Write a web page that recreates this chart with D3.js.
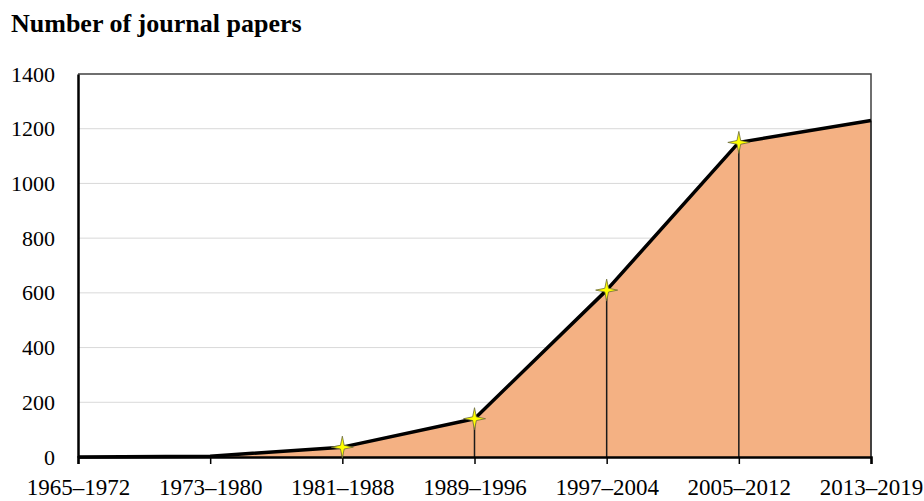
<!DOCTYPE html>
<html lang="en">
<head>
<meta charset="utf-8">
<script src="https://d3js.org/d3.v7.min.js"></script>
<style type="text/css">
body {
    margin: 0;
    background: #fff;
}
text {
    font-family: "Liberation Serif", "Times New Roman", serif;
}
.title {
    font-size: 26px;
    font-weight: bold;
}
.axis text {
    font-size: 22px;
    fill: #000;
}
.x.axis text {
    font-size: 23px;
}
.grid line {
    stroke: #d9d9d9;
    stroke-width: 1;
}
</style>
</head>
<body>
<div id="chart"></div>
<script type="text/javascript">

// periods and number of papers
var periods = ["1965\u20131972", "1973\u20131980", "1981\u20131988", "1989\u20131996",
               "1997\u20132004", "2005\u20132012", "2013\u20132019"];
var papers = [0, 3, 36, 140, 610, 1150, 1230];
var yTicks = [0, 200, 400, 600, 800, 1000, 1200, 1400];
// which points get a star marker
var starred = [false, false, true, true, true, true, false];

var width = 924;
var height = 501;
var margin = {top: 74, right: 53, bottom: 44, left: 78};

var svg = d3.select("#chart")
    .append("svg")
    .attr("width", width)
    .attr("height", height);

var x = d3.scalePoint()
    .domain(periods)
    .range([margin.left, width - margin.right]);

var y = d3.scaleLinear()
    .domain([0, 1400])
    .range([height - margin.bottom, margin.top]);

var data = periods.map(function(p, i) {
    return {period: p, value: papers[i], star: starred[i]};
});

svg.append("text")
    .attr("class", "title")
    .attr("x", 11)
    .attr("y", 32)
    .text("Number of journal papers");

// gridlines
svg.append("g")
    .attr("class", "grid")
    .selectAll("line")
    .data(yTicks.slice(1, -1))
    .enter()
    .append("line")
    .attr("x1", x.range()[0])
    .attr("x2", x.range()[1])
    .attr("y1", function(d) { return y(d); })
    .attr("y2", function(d) { return y(d); });

// shaded area
var area = d3.area()
    .x(function(d) { return x(d.period); })
    .y0(y(0))
    .y1(function(d) { return y(d.value); });

svg.append("path")
    .datum(data)
    .attr("d", area)
    .attr("fill", "#f4b183");

// drop lines
svg.append("g")
    .selectAll("line")
    .data(data)
    .enter()
    .append("line")
    .attr("x1", function(d) { return x(d.period); })
    .attr("x2", function(d) { return x(d.period); })
    .attr("y1", function(d) { return y(d.value); })
    .attr("y2", y(0))
    .attr("stroke", "#1a1a1a")
    .attr("stroke-width", 1.5);

// top and right border of the plot
svg.append("path")
    .attr("d", "M" + x.range()[0] + "," + y(1400) + "H" + x.range()[1] + "V" + y(0))
    .attr("fill", "none")
    .attr("stroke", "#404040")
    .attr("stroke-width", 1.5);

var line = d3.line()
    .x(function(d) { return x(d.period); })
    .y(function(d) { return y(d.value); });

svg.append("path")
    .datum(data)
    .attr("d", line)
    .attr("fill", "none")
    .attr("stroke", "#000")
    .attr("stroke-width", 3.5)
    .attr("stroke-linejoin", "round");

// y axis
var yAxis = svg.append("g")
    .attr("class", "y axis")
    .attr("transform", "translate(" + margin.left + ",0)")
    .call(d3.axisLeft(y).tickValues(yTicks).tickFormat(d3.format("d")).tickSize(0).tickPadding(23));
yAxis.select(".domain").attr("stroke", "#000").attr("stroke-width", 2.5);

// x axis
var xAxis = svg.append("g")
    .attr("class", "x axis")
    .attr("transform", "translate(0," + y(0) + ")")
    .call(d3.axisBottom(x).tickSize(7).tickPadding(15));
xAxis.select(".domain").attr("stroke", "#000").attr("stroke-width", 2.5);
xAxis.selectAll(".tick line").attr("stroke", "#000").attr("stroke-width", 1.5);

// four point star markers
var fourStar = {
    draw: function(context, size) {
        var r = Math.sqrt(size);
        var ri = r * 0.24;
        for (var k = 0; k < 8; k++) {
            var a = k * Math.PI / 4 - Math.PI / 2;
            var rr = k % 2 === 0 ? r : ri;
            if (k === 0) context.moveTo(rr * Math.cos(a), rr * Math.sin(a));
            else context.lineTo(rr * Math.cos(a), rr * Math.sin(a));
        }
        context.closePath();
    }
};

svg.append("g")
    .selectAll("path")
    .data(data.filter(function(d) { return d.star; }))
    .enter()
    .append("path")
    .attr("transform", function(d) { return "translate(" + x(d.period) + "," + y(d.value) + ")"; })
    .attr("d", d3.symbol().type(fourStar).size(121))
    .attr("fill", "#ffff00")
    .attr("stroke", "#6b6b3a")
    .attr("stroke-width", 0.8);

</script>
</body>
</html>
